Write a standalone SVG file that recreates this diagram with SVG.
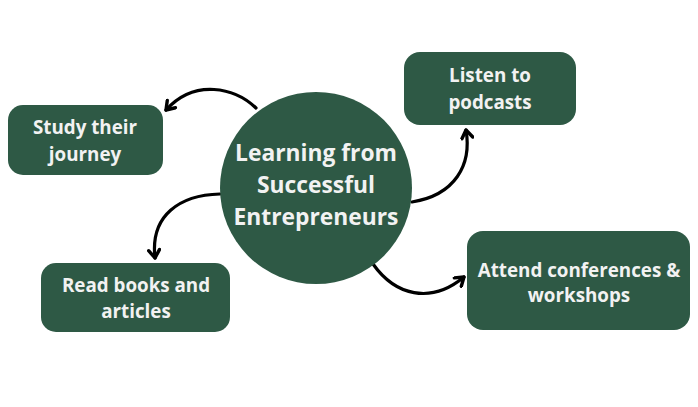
<svg xmlns="http://www.w3.org/2000/svg" width="698" height="407" viewBox="0 0 698 407">
<defs>
<style>
.n{fill:#2e5945}
.t{font-family:"Open Sans","Noto Sans",sans-serif;font-weight:700;fill:#f2f2f2;text-anchor:middle}
.s{font-size:18.8px}
.b{font-size:22.8px}
.c{fill:none;stroke:#000;stroke-width:3.2;stroke-linecap:round;stroke-linejoin:round}
</style>
<marker id="ah" viewBox="0 0 14 14" refX="10" refY="7" markerWidth="14" markerHeight="14" markerUnits="userSpaceOnUse" orient="auto">
<path d="M2,1.5 L10,7 L2,12.5" fill="none" stroke="#000" stroke-width="3.4" stroke-linecap="round" stroke-linejoin="round"/>
</marker>
</defs>
<rect width="698" height="407" fill="#fff"/>
<g id="connectors">
<path class="c" d="M256,108 C235,88 195,78 166,110" marker-end="url(#ah)"/>
<path class="c" d="M412,202 C455,195 472,165 466,130" marker-end="url(#ah)"/>
<path class="c" d="M220,194 C180,195 150,215 155,258" marker-end="url(#ah)"/>
<path class="c" d="M373,264 C395,295 430,305 464,277" marker-end="url(#ah)"/>
</g>
<g id="center">
<circle class="n" cx="316" cy="188" r="96"/>
<text class="t b" x="316" y="161">Learning from</text>
<text class="t b" x="316" y="193">Successful</text>
<text class="t b" x="316" y="225">Entrepreneurs</text>
</g>
<g id="study">
<rect class="n" x="8" y="105" width="155" height="70" rx="15"/>
<text class="t s" x="85" y="134">Study their</text>
<text class="t s" x="85" y="161">journey</text>
</g>
<g id="podcasts">
<rect class="n" x="404" y="52" width="172" height="73" rx="16"/>
<text class="t s" x="490" y="82">Listen to</text>
<text class="t s" x="490" y="109">podcasts</text>
</g>
<g id="books">
<rect class="n" x="41" y="263" width="189" height="69" rx="15"/>
<text class="t s" x="136" y="292">Read books and</text>
<text class="t s" x="136" y="318">articles</text>
</g>
<g id="conferences">
<rect class="n" x="467" y="231" width="223" height="99" rx="16"/>
<text class="t s" x="579" y="277">Attend conferences &amp;</text>
<text class="t s" x="579" y="302">workshops</text>
</g>
</svg>
